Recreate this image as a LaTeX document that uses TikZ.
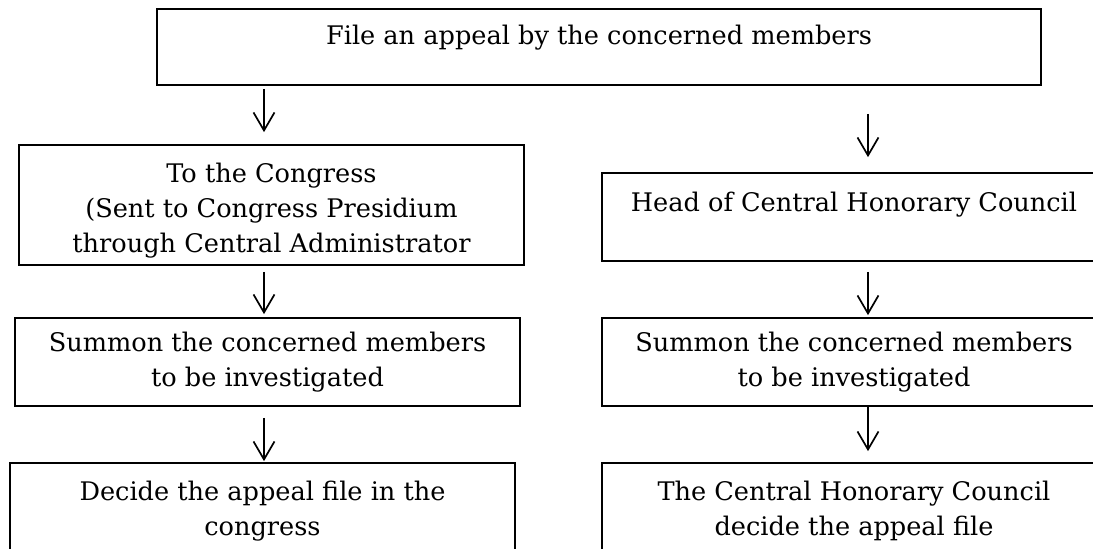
\documentclass[tikz,border=0pt]{standalone}
\usepackage{fontspec}
\setmainfont{DejaVu Serif}
\usetikzlibrary{arrows.meta}

\begin{document}
\begin{tikzpicture}[x=0.5pt,y=-0.5pt,
        stepbox/.style={draw,line width=0.85pt,inner sep=0pt,align=center,
            font=\fontsize{12.8pt}{17.5pt}\selectfont},
        flow/.style={-{Straight Barb[length=9pt,width=10.5pt]},line width=0.85pt}]
        \def\wl{252.5pt} % width of the left boxes
        \def\wr{252pt} % width of the right boxes

        % Page frame
        \useasboundingbox (0,0) rectangle (1093,549);

        % Columns of the arrows
        \coordinate (colL) at (264,0);
        \coordinate (colR) at (868,0);

        % Appeal
        \node[stepbox,minimum width=442pt,text height=18pt,text depth=20pt] (appeal) at (599,47) {File an appeal by the concerned members};

        % Congress side
        \node[stepbox,minimum width=\wl,minimum height=60pt] (congress) at (271.5,205) {\rule{0pt}{15pt}To the Congress\\(Sent to Congress Presidium\\through Central Administrator};
        \node[stepbox,minimum width=\wl,minimum height=44pt] (summonL) at (267.5,362) {Summon the concerned members\\to be investigated};
        \node[stepbox,minimum width=\wl,minimum height=48pt] (decideL) at (262.5,511) {Decide the appeal file in the\\congress};

        % Council side
        \node[stepbox,minimum width=\wr,text height=19.5pt,text depth=24.5pt] (head) at (854,217) {Head of Central Honorary Council};
        \node[stepbox,minimum width=\wr,minimum height=44pt] (summonR) at (854,362) {Summon the concerned members\\to be investigated};
        \node[stepbox,minimum width=\wr,minimum height=48pt] (decideR) at (854,511) {The Central Honorary Council\\decide the appeal file};

        % Arrows
        \draw[flow,shorten <=1.5pt,shorten >=6pt] (appeal.south -| colL) -- (congress.north -| colL);
        \draw[flow,shorten <=3pt,shorten >=1.5pt] (congress.south -| colL) -- (summonL.north -| colL);
        \draw[flow,shorten <=5.5pt,shorten >=0.5pt] (summonL.south -| colL) -- (decideL.north -| colL);

        \draw[flow,shorten <=14pt,shorten >=7.5pt] (appeal.south -| colR) -- (head.north -| colR);
        \draw[flow,shorten <=5pt,shorten >=1pt] (head.south -| colR) -- (summonR.north -| colR);
        \draw[flow,shorten >=5.5pt] (summonR.south -| colR) -- (decideR.north -| colR);
    \end{tikzpicture}
\end{document}
